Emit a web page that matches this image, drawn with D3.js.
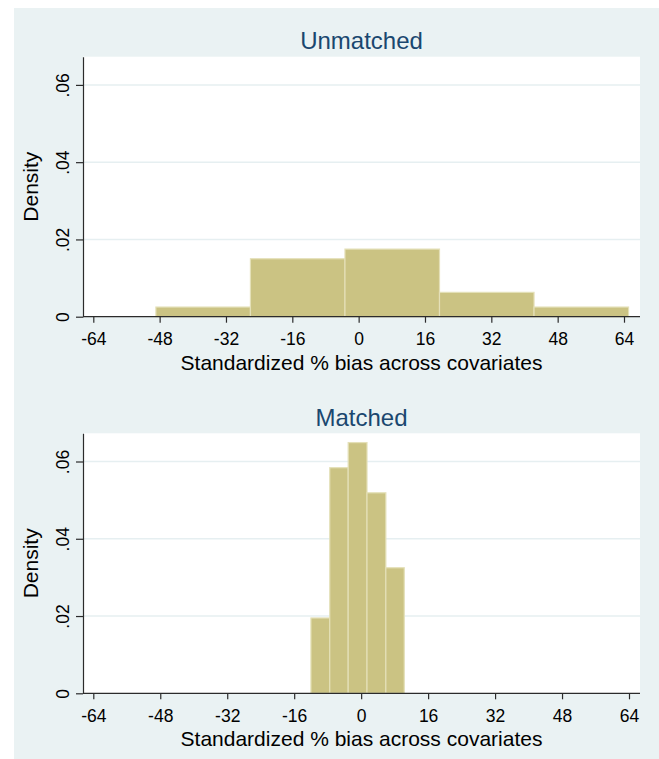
<html lang="en">
<head>
    <meta charset="utf-8">
    <title>Standardized bias histograms</title>
    <script src="https://d3js.org/d3.v7.min.js"></script>
    <style>
        body { margin: 0; background: #ffffff; }
        text { font-family: "Liberation Sans", Arial, Helvetica, sans-serif; }
    </style>
</head>
<body>
<div id="my_dataviz"></div>
<script>

	// tick labels
	var xTicks = [-64, -48, -32, -16, 0, 16, 32, 48, 64];
	var yTicks = [0, 0.02, 0.04, 0.06];

	// unmatched sample: bin edges and densities
	var unmatchedEdges = [-48.9, -26.1, -3.3, 19.5, 42.3, 65.1];
	var unmatchedDensity = [0.0025, 0.0150, 0.0175, 0.0063, 0.0025];

	// matched sample: bin edges and densities
	var matchedEdges = [-12.0, -7.5, -3.1, 1.4, 5.9, 10.3];
	var matchedDensity = [0.0195, 0.0584, 0.0649, 0.0519, 0.0325];

	var svg = d3.select("#my_dataviz")
	  .append("svg")
		.attr("width", 659)
		.attr("height", 759);

	// graph region background
	svg.append("rect")
		.attr("x", 14).attr("y", 8)
		.attr("width", 645).attr("height", 751)
		.attr("fill", "#eaf2f3");

	function fmtY(d) {
		return d === 0 ? "0" : d3.format(".2f")(d).replace(/^0/, "");
	}

	function drawPanel(title, edges, density, top, xRight) {
		var left = 83, right = 640, plotTop = top, bottom = top + 260;

		var x = d3.scaleLinear().domain([-64, 64]).range([93.3, xRight]);
		var y = d3.scaleLinear().domain([0, 0.0673]).range([bottom, plotTop]);

		var g = svg.append("g");

		// plot region
		g.append("rect")
			.attr("x", left).attr("y", plotTop)
			.attr("width", right - left).attr("height", bottom - plotTop)
			.attr("fill", "#ffffff");

		// grid lines
		g.selectAll(".grid")
		  .data(yTicks.filter(function(d) { return d > 0; }))
		  .enter().append("line")
			.attr("x1", left).attr("x2", right)
			.attr("y1", function(d) { return y(d); })
			.attr("y2", function(d) { return y(d); })
			.attr("stroke", "#e6eff1")
			.attr("stroke-width", 1.5);

		// bars
		var bins = density.map(function(d, i) { return {x0: edges[i], x1: edges[i + 1], v: d}; });
		g.selectAll(".bar")
		  .data(bins)
		  .enter().append("rect")
			.attr("x", function(d) { return x(d.x0); })
			.attr("y", function(d) { return y(d.v); })
			.attr("width", function(d) { return x(d.x1) - x(d.x0); })
			.attr("height", function(d) { return y(0) - y(d.v); })
			.attr("fill", "#cbc383")
			.attr("stroke", "#e4e0b8")
			.attr("stroke-width", 1.2);

		// Y axis
		var yAxis = g.append("g")
			.attr("transform", "translate(" + left + ",0)")
			.call(d3.axisLeft(y).tickValues(yTicks).tickSizeInner(7).tickSizeOuter(0).tickFormat(fmtY));
		yAxis.selectAll("path, line").attr("stroke", "#2b2b2b").attr("stroke-width", 1.2);
		yAxis.selectAll("text")
			.attr("x", 0).attr("y", -14.5).attr("dy", 0)
			.attr("transform", "rotate(-90)")
			.attr("text-anchor", "middle")
			.attr("fill", "#000")
			.style("font-size", "17.5px");

		// X axis (plain hyphen for negatives, as in the original)
		var xAxis = g.append("g")
			.attr("transform", "translate(0," + bottom + ")")
			.call(d3.axisBottom(x).tickValues(xTicks).tickSizeInner(6).tickSizeOuter(0)
				.tickFormat(function(d) { return String(d); }));
		xAxis.select(".domain").remove();
		xAxis.selectAll("line").attr("stroke", "#2b2b2b").attr("stroke-width", 1.2);
		xAxis.selectAll("text")
			.attr("y", 28.3).attr("dy", 0)
			.attr("fill", "#000")
			.style("font-size", "17.5px");
		xAxis.append("line")
			.attr("x1", left).attr("x2", right)
			.attr("stroke", "#2b2b2b").attr("stroke-width", 1.2);

		// titles
		g.append("text")
			.attr("x", (left + right) / 2).attr("y", plotTop - 7.4)
			.attr("text-anchor", "middle")
			.attr("fill", "#1a476f")
			.style("font-size", "24px")
			.text(title);

		g.append("text")
			.attr("x", (left + right) / 2).attr("y", bottom + 53)
			.attr("text-anchor", "middle")
			.attr("fill", "#000")
			.style("font-size", "21px")
			.text("Standardized % bias across covariates");

		g.append("text")
			.attr("transform", "translate(38," + (plotTop + bottom) / 2 + ") rotate(-90)")
			.attr("text-anchor", "middle")
			.attr("fill", "#000")
			.style("font-size", "21px")
			.text("Density");
	}

	drawPanel("Unmatched", unmatchedEdges, unmatchedDensity, 56.7, 624);
	drawPanel("Matched", matchedEdges, matchedDensity, 433.3, 629);

</script>
</body>
</html>
